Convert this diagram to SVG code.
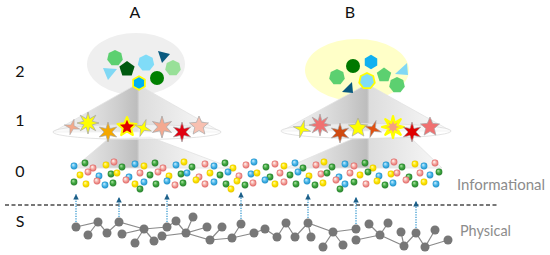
<svg xmlns="http://www.w3.org/2000/svg" xmlns:xlink="http://www.w3.org/1999/xlink" width="550" height="255" viewBox="0 0 550 255">
<style>
.lbl{font-family:Lato,"Open Sans","Liberation Sans",sans-serif;font-size:16px;fill:#111}
.side{font-family:Lato,"Open Sans","Liberation Sans",sans-serif;font-size:15px;fill:#8c8c8c}
.st{stroke:#a8a8a8;stroke-width:0.7;stroke-linejoin:round}
.sy{stroke:#ffff00;stroke-width:2;stroke-linejoin:round}
.edge{stroke:#8a8a8a;stroke-width:1.2;fill:none}
.pn{fill:#777}
.arr{stroke:#3a9ad0;stroke-width:1.3;stroke-dasharray:1.3 1.2;fill:none}
.cone{stroke:#e2e2e2;stroke-width:0.8}
</style>
<defs>
<linearGradient id="gA" gradientUnits="userSpaceOnUse" x1="53" y1="0" x2="221" y2="0">
<stop offset="0" stop-color="#fbfbfb"/><stop offset="0.38" stop-color="#cfcfcf"/><stop offset="0.5" stop-color="#bdbdbd"/><stop offset="0.515" stop-color="#dddddd"/><stop offset="1" stop-color="#fcfcfc"/>
</linearGradient>
<linearGradient id="gB" gradientUnits="userSpaceOnUse" x1="282" y1="0" x2="452" y2="0">
<stop offset="0" stop-color="#fbfbfb"/><stop offset="0.38" stop-color="#cfcfcf"/><stop offset="0.5" stop-color="#bdbdbd"/><stop offset="0.515" stop-color="#dddddd"/><stop offset="1" stop-color="#fcfcfc"/>
</linearGradient>
<radialGradient id="cB" cx="0.5" cy="0.5" r="0.5" fx="0.35" fy="0.3"><stop offset="0" stop-color="#d8f2ff"/><stop offset="0.55" stop-color="#4cb8ea"/><stop offset="1" stop-color="#1d8fc8"/></radialGradient>
<radialGradient id="cG" cx="0.5" cy="0.5" r="0.5" fx="0.35" fy="0.3"><stop offset="0" stop-color="#b8e8b0"/><stop offset="0.55" stop-color="#3fa83f"/><stop offset="1" stop-color="#2a8030"/></radialGradient>
<radialGradient id="cR" cx="0.5" cy="0.5" r="0.5" fx="0.35" fy="0.3"><stop offset="0" stop-color="#ffffff"/><stop offset="0.5" stop-color="#f6b0a8"/><stop offset="1" stop-color="#e06464"/></radialGradient>
<radialGradient id="cY" cx="0.5" cy="0.5" r="0.5" fx="0.35" fy="0.3"><stop offset="0" stop-color="#fffbc0"/><stop offset="0.55" stop-color="#ffe800"/><stop offset="1" stop-color="#e6c400"/></radialGradient>
<circle id="B" r="3.4" fill="url(#cB)"/>
<circle id="G" r="3.4" fill="url(#cG)"/>
<circle id="R" r="3.4" fill="url(#cR)"/>
<circle id="Y" r="3.4" fill="url(#cY)"/>
<polygon id="s4" points="0,-10 2.1,-2.1 10,0 2.1,2.1 0,10 -2.1,2.1 -10,0 -2.1,-2.1"/>
<polygon id="s5" points="0,-10 2.65,-3.64 9.51,-3.09 4.28,1.39 5.88,8.09 0,4.5 -5.88,8.09 -4.28,1.39 -9.51,-3.09 -2.65,-3.64"/>
<polygon id="s6" points="0,-10 2,-3.46 8.66,-5 4,0 8.66,5 2,3.46 0,10 -2,3.46 -8.66,5 -4,0 -8.66,-5 -2,-3.46"/>
<polygon id="s8" points="0,-10 1.61,-3.88 7.07,-7.07 3.88,-1.61 10,0 3.88,1.61 7.07,7.07 1.61,3.88 0,10 -1.61,3.88 -7.07,7.07 -3.88,1.61 -10,0 -3.88,-1.61 -7.07,-7.07 -1.61,-3.88"/>
<polygon id="hp" points="0,-8 6.25,-4.99 7.8,1.78 3.47,7.21 -3.47,7.21 -7.8,1.78 -6.25,-4.99"/>
<polygon id="pg" points="0,-8 7.61,-2.47 4.7,6.47 -4.7,6.47 -7.61,-2.47"/>
<polygon id="hx" points="0,-8 6.93,-4 6.93,4 0,8 -6.93,4 -6.93,-4"/>
<marker id="ah" viewBox="0 0 10 10" refX="10" refY="5" markerUnits="userSpaceOnUse" markerWidth="7" markerHeight="5.5" orient="auto">
<path d="M0,0 L10,5 L0,10 z" fill="#1d5f88"/>
</marker>
</defs>

<rect width="550" height="255" fill="#ffffff"/>

<g id="labels">
<text class="lbl" x="135" y="18" text-anchor="middle">A</text>
<text class="lbl" x="350" y="18" text-anchor="middle">B</text>
<text class="lbl" x="20" y="77" text-anchor="middle">2</text>
<text class="lbl" x="20" y="126" text-anchor="middle">1</text>
<text class="lbl" x="20" y="177" text-anchor="middle">0</text>
<text class="lbl" x="20" y="227" text-anchor="middle">S</text>
<text class="side" x="457" y="190" textLength="88" lengthAdjust="spacingAndGlyphs">Informational</text>
<text class="side" x="460" y="236" textLength="51" lengthAdjust="spacingAndGlyphs">Physical</text>
</g>

<g id="tree-A">
<ellipse cx="136" cy="64" rx="49" ry="31" fill="#efefef"/>
<polygon class="cone" points="108,139 150,137 232,168 74,168" fill="url(#gA)"/>
<polygon class="cone" points="137,84 53,132 221,132" fill="url(#gA)"/>
<ellipse cx="137" cy="132" rx="84" ry="7.5" fill="#ffffff" fill-opacity="0.5" stroke="#dcdcdc" stroke-width="0.8"/>
</g>
<g id="tree-B">
<ellipse cx="357" cy="70" rx="52" ry="31" fill="#ffffc8"/>
<polygon class="cone" points="352,139 410,137 442,168 286,168" fill="url(#gB)"/>
<polygon class="cone" points="367,84 282,131 451,131" fill="url(#gB)"/>
<ellipse cx="366" cy="131" rx="85" ry="7.5" fill="#ffffff" fill-opacity="0.5" stroke="#dcdcdc" stroke-width="0.8"/>
</g>

<g id="level2-A">
<use href="#hp" transform="translate(115,58)" fill="#5cd070"/>
<polygon points="103,68 117,69 108,80" fill="#80d8f4"/>
<use href="#pg" transform="translate(127,69)" fill="#005a10"/>
<use href="#hp" transform="translate(146,63) scale(1.05)" fill="#80dcf8"/>
<polygon points="158,51 170,54 162,63" fill="#0a5a80"/>
<use href="#hp" transform="translate(173,68)" fill="#98e098"/>
<circle cx="157" cy="78" r="7" fill="#008000"/>
<use href="#hx" transform="translate(139,83) scale(0.85)" fill="#00b0f0" stroke="#ffff00" stroke-width="2"/>
</g>
<g id="level2-B">
<use href="#hp" transform="translate(337,77)" fill="#5cd070"/>
<circle cx="353" cy="66" r="7" fill="#007800"/>
<use href="#hx" transform="translate(371,62) scale(0.9)" fill="#10b0f0"/>
<use href="#pg" transform="translate(384,75) scale(0.95)" fill="#5cd070"/>
<polygon points="395,74 407,63 408,75" fill="#80d8f4"/>
<polygon points="342,92 352,82 353,93" fill="#0a5a80"/>
<use href="#hp" transform="translate(397,85)" fill="#5cd070"/>
<use href="#hp" transform="translate(367,81)" fill="#80dcf8" stroke="#ffff00" stroke-width="1.8"/>
</g>

<g id="level1-A">
<use href="#s4" class="st" transform="translate(72,127) rotate(15) scale(0.8)" fill="#f4a98a"/>
<use href="#s8" class="st" transform="translate(88,123) scale(1.1)" fill="#ffff00"/>
<use href="#s6" class="st" transform="translate(108,132)" fill="#f5a800"/>
<use href="#s5" class="sy" transform="translate(127,127)" fill="#e00000"/>
<use href="#s4" class="st" transform="translate(143,128) rotate(20) scale(0.9)" fill="#ffff00"/>
<use href="#s6" class="st" transform="translate(162,127) scale(1.1)" fill="#f4a990"/>
<use href="#s6" class="st" transform="translate(182,132)" fill="#e00010"/>
<use href="#s5" class="st" transform="translate(199,126)" fill="#f8c0b0"/>
</g>
<g id="level1-B">
<use href="#s4" class="st" transform="translate(302,129) rotate(15) scale(0.9)" fill="#ffff00"/>
<use href="#s8" class="st" transform="translate(320,125) scale(1.1)" fill="#f07070"/>
<use href="#s6" class="st" transform="translate(340,133)" fill="#d04a10"/>
<use href="#s5" class="st" transform="translate(358,128)" fill="#ffff00"/>
<use href="#s4" class="st" transform="translate(373,129) rotate(20) scale(0.9)" fill="#e05010"/>
<use href="#s8" class="sy" transform="translate(393,127) scale(1.1)" fill="#f4a080"/>
<use href="#s6" class="st" transform="translate(412,132)" fill="#e00000"/>
<use href="#s5" class="st" transform="translate(430,127)" fill="#f07070"/>
</g>

<g id="level0">
<use href="#B" x="74" y="166"/><use href="#G" x="85" y="163"/><use href="#R" x="93" y="168"/><use href="#Y" x="106" y="165"/><use href="#R" x="114" y="162"/><use href="#G" x="122" y="167"/><use href="#B" x="135" y="164"/><use href="#Y" x="144" y="166"/><use href="#G" x="155" y="163"/><use href="#R" x="163" y="168"/><use href="#B" x="176" y="165"/><use href="#Y" x="184" y="162"/><use href="#G" x="192" y="167"/><use href="#R" x="205" y="164"/><use href="#B" x="214" y="166"/><use href="#G" x="225" y="163"/><use href="#Y" x="233" y="168"/><use href="#R" x="246" y="165"/><use href="#B" x="254" y="162"/><use href="#G" x="266" y="167"/><use href="#R" x="275" y="164"/><use href="#Y" x="284" y="166"/><use href="#B" x="295" y="163"/><use href="#G" x="303" y="168"/><use href="#R" x="316" y="165"/><use href="#Y" x="324" y="162"/><use href="#G" x="332" y="167"/><use href="#B" x="345" y="164"/><use href="#R" x="354" y="166"/><use href="#G" x="365" y="163"/><use href="#Y" x="373" y="168"/><use href="#B" x="386" y="165"/><use href="#R" x="394" y="162"/><use href="#G" x="402" y="167"/><use href="#Y" x="415" y="164"/><use href="#B" x="424" y="166"/><use href="#R" x="435" y="163"/>
<use href="#Y" x="80" y="175"/><use href="#R" x="88" y="172"/><use href="#B" x="99" y="176"/><use href="#G" x="111" y="174"/><use href="#Y" x="117" y="173"/><use href="#B" x="129" y="177"/><use href="#R" x="140" y="173"/><use href="#G" x="150" y="175"/><use href="#R" x="158" y="172"/><use href="#Y" x="169" y="176"/><use href="#G" x="181" y="174"/><use href="#B" x="187" y="173"/><use href="#R" x="199" y="177"/><use href="#Y" x="210" y="173"/><use href="#G" x="220" y="175"/><use href="#B" x="228" y="172"/><use href="#R" x="239" y="176"/><use href="#B" x="251" y="174"/><use href="#Y" x="257" y="173"/><use href="#G" x="270" y="177"/><use href="#R" x="280" y="173"/><use href="#G" x="290" y="175"/><use href="#B" x="298" y="172"/><use href="#Y" x="309" y="176"/><use href="#R" x="321" y="174"/><use href="#G" x="327" y="173"/><use href="#B" x="339" y="177"/><use href="#R" x="350" y="173"/><use href="#Y" x="360" y="175"/><use href="#G" x="368" y="172"/><use href="#B" x="379" y="176"/><use href="#Y" x="391" y="174"/><use href="#R" x="397" y="173"/><use href="#G" x="409" y="177"/><use href="#R" x="420" y="173"/><use href="#B" x="430" y="175"/><use href="#G" x="439" y="172"/>
<use href="#G" x="74" y="182"/><use href="#Y" x="86" y="184"/><use href="#R" x="97" y="181"/><use href="#B" x="105" y="185"/><use href="#G" x="113" y="183"/><use href="#R" x="126" y="180"/><use href="#Y" x="135" y="184"/><use href="#B" x="144" y="182"/><use href="#G" x="156" y="184"/><use href="#B" x="167" y="181"/><use href="#R" x="175" y="185"/><use href="#G" x="183" y="183"/><use href="#Y" x="196" y="180"/><use href="#R" x="205" y="184"/><use href="#B" x="214" y="182"/><use href="#G" x="226" y="184"/><use href="#Y" x="237" y="181"/><use href="#G" x="245" y="185"/><use href="#R" x="253" y="183"/><use href="#B" x="265" y="180"/><use href="#Y" x="275" y="184"/><use href="#R" x="284" y="182"/><use href="#G" x="296" y="184"/><use href="#B" x="307" y="181"/><use href="#G" x="315" y="185"/><use href="#Y" x="323" y="183"/><use href="#R" x="336" y="180"/><use href="#B" x="345" y="184"/><use href="#G" x="354" y="182"/><use href="#R" x="366" y="184"/><use href="#Y" x="377" y="181"/><use href="#G" x="385" y="185"/><use href="#B" x="393" y="183"/><use href="#R" x="406" y="180"/><use href="#G" x="415" y="184"/><use href="#Y" x="424" y="182"/><use href="#B" x="436" y="184"/>
<use href="#G" x="140" y="189"/><use href="#G" x="340" y="189"/><use href="#Y" x="231" y="189"/>
</g>

<g id="connectors">
<line x1="5" y1="205" x2="497" y2="205" stroke="#777" stroke-width="2" stroke-dasharray="4 2.5"/>
<path class="edge" d="M76,227 L98,222 L107,233 L119,222 L144,229 L167,227 L176,221 M88,235 L98,222 M122,234 L144,229 L135,243 M144,229 L154,241 M162,236 L186,233 L176,221 M193,217 L186,233 L207,227 M186,233 L210,240 L222,227 M210,240 L232,238 L241,224 M232,238 L254,233 L265,229 L277,237 L286,223 L295,237 L308,223 L333,232 L323,247 M308,223 L311,237 M333,232 L343,245 M333,232 L356,229 M356,240 L380,235 L369,224 M388,223 L380,235 L404,246 L401,232 M404,246 L416,233 L425,247 L435,230 M425,247 L448,240"/>
<line class="arr" x1="76" y1="227" x2="76" y2="194" marker-end="url(#ah)"/>
<line class="arr" x1="119" y1="222" x2="119" y2="197" marker-end="url(#ah)"/>
<line class="arr" x1="167" y1="227" x2="167" y2="194" marker-end="url(#ah)"/>
<line class="arr" x1="241" y1="224" x2="241" y2="192" marker-end="url(#ah)"/>
<line class="arr" x1="308" y1="223" x2="308" y2="194" marker-end="url(#ah)"/>
<line class="arr" x1="356" y1="229" x2="356" y2="197" marker-end="url(#ah)"/>
<line class="arr" x1="416" y1="233" x2="416" y2="201" marker-end="url(#ah)"/>
</g>

<g id="physical-nodes" class="pn">
<circle cx="76" cy="227" r="4.5"/><circle cx="98" cy="222" r="4.5"/><circle cx="88" cy="235" r="4.5"/><circle cx="107" cy="233" r="4.5"/><circle cx="119" cy="222" r="4.5"/><circle cx="122" cy="234" r="4.5"/><circle cx="144" cy="229" r="4.5"/><circle cx="135" cy="243" r="4.5"/><circle cx="154" cy="241" r="4.5"/><circle cx="167" cy="227" r="4.5"/><circle cx="162" cy="236" r="4.5"/><circle cx="176" cy="221" r="4.5"/><circle cx="193" cy="217" r="4.5"/><circle cx="186" cy="233" r="4.5"/><circle cx="207" cy="227" r="4.5"/><circle cx="210" cy="240" r="4.5"/><circle cx="222" cy="227" r="4.5"/><circle cx="232" cy="238" r="4.5"/><circle cx="241" cy="224" r="4.5"/><circle cx="254" cy="233" r="4.5"/><circle cx="265" cy="229" r="4.5"/><circle cx="277" cy="237" r="4.5"/>
<circle cx="286" cy="223" r="4.5"/><circle cx="295" cy="237" r="4.5"/><circle cx="308" cy="223" r="4.5"/><circle cx="311" cy="237" r="4.5"/><circle cx="323" cy="247" r="4.5"/><circle cx="333" cy="232" r="4.5"/><circle cx="343" cy="245" r="4.5"/><circle cx="356" cy="229" r="4.5"/><circle cx="356" cy="240" r="4.5"/><circle cx="369" cy="224" r="4.5"/><circle cx="388" cy="223" r="4.5"/><circle cx="380" cy="235" r="4.5"/><circle cx="401" cy="232" r="4.5"/><circle cx="404" cy="246" r="4.5"/><circle cx="416" cy="233" r="4.5"/><circle cx="425" cy="247" r="4.5"/><circle cx="435" cy="230" r="4.5"/><circle cx="448" cy="240" r="4.5"/>
</g>
</svg>
